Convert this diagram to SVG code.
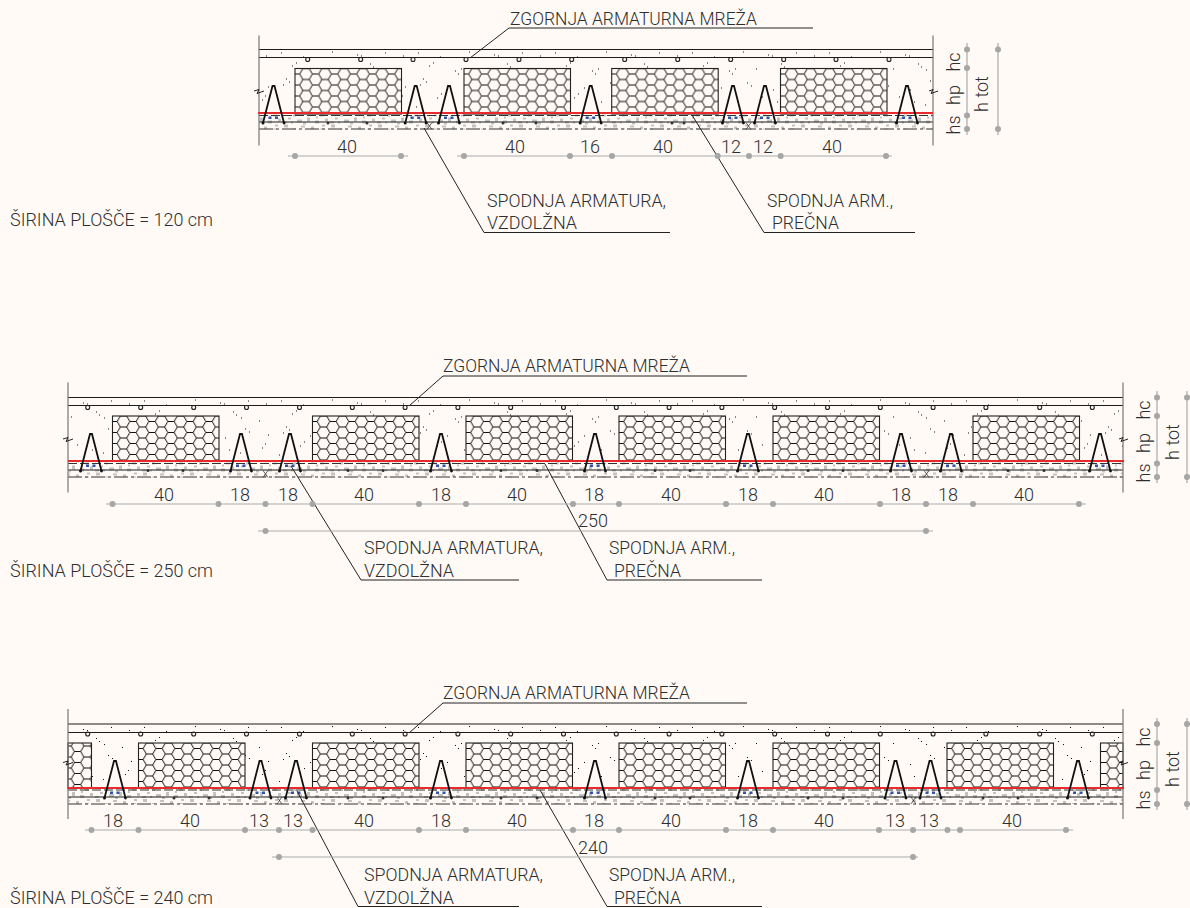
<svg xmlns="http://www.w3.org/2000/svg" xmlns:xlink="http://www.w3.org/1999/xlink" width="1190" height="908" viewBox="0 0 1190 908">
<style>
text{font-family:"Roboto","Liberation Sans",sans-serif;font-weight:300;font-size:18px;fill:#2e2e2e}
.m{text-anchor:middle}
.lead{fill:none;stroke:#222;stroke-width:1}
.edge{fill:none;stroke:#777;stroke-width:1.2}
.ln{fill:none;stroke:#1c1c1c;stroke-width:1.1}
.dsh{fill:none;stroke:#333;stroke-width:1;stroke-dasharray:9 3}
.dd{fill:none;stroke:#333;stroke-width:1;stroke-dasharray:14 3 3 3}
.red{fill:none;stroke:#ea2a2a;stroke-width:2}
.dim{fill:none;stroke:#ababab;stroke-width:1.2}
.reb{fill:none;stroke:#222;stroke-width:1.1}
.x{fill:none;stroke:#222;stroke-width:.7}
</style>
<defs>
<pattern id="hex" width="19" height="11" patternUnits="userSpaceOnUse" patternTransform="translate(4.7,0)"><rect width="19" height="11" fill="#fffaf6"/><path d="M0 5.5L3.17 0H9.5L12.67 5.5L9.5 11H3.17ZM12.67 5.5H19" fill="none" stroke="#111" stroke-width="1"/></pattern>
<pattern id="stip" width="137" height="64" patternUnits="userSpaceOnUse"><path d="M7 3h1v1h-1zM29 7h1v1h-1zM58 2h1v1h-1zM83 5h1v1h-1zM87 6h1v1h-1zM111 3h1v1h-1zM129 6h1v1h-1zM18 16h1v1h-1zM22 13h1v1h-1zM44 21h1v1h-1zM47 24h1v1h-1zM50 19h1v1h-1zM71 19h1v1h-1zM96 14h1v1h-1zM99 17h1v1h-1zM104 20h1v1h-1zM122 23h1v1h-1zM12 29h1v1h-1zM15 32h1v1h-1zM9 35h1v1h-1zM36 38h1v1h-1zM62 33h1v1h-1zM66 36h1v1h-1zM88 40h1v1h-1zM108 31h1v1h-1zM112 34h1v1h-1zM131 37h1v1h-1zM26 48h1v1h-1zM30 44h1v1h-1zM53 52h1v1h-1zM77 47h1v1h-1zM103 55h1v1h-1zM5 57h1v1h-1zM125 50h1v1h-1zM128 46h1v1h-1zM92 52h1v1h-1z" fill="#111"/></pattern>
<pattern id="grit" width="47" height="15" patternUnits="userSpaceOnUse"><path d="M2 0h4v3h-4zM11 4h3v3h-3zM19 1h4v2h-4zM29 2h3v3h-3zM38 4h4v3h-4zM6 8h3v2h-3zM15 10h5v3h-5zM25 8h3v4h-3zM33 11h4v3h-4zM43 9h3v3h-3zM1 12h4v2h-4zM21 13h3v2h-3zM40 0h3v2h-3zM34 7h2v2h-2zM9 12h2v2h-2z" fill="#c2c2c2"/></pattern>
<g id="block"><rect width="106.5" height="45.5" fill="url(#hex)" stroke="#222" stroke-width="1.1"/></g>
<g id="truss"><path d="M-10.500 37L-1 0H1L10.500 37" fill="none" stroke="#111" stroke-width="1.8"/><circle cx="-10.500" cy="37" r="1.5" fill="#111"/><circle cx="10.500" cy="37" r="1.4" fill="#111"/><rect x="-5" y="30.500" width="3" height="2.500" fill="#2f56a6"/><rect x="1.500" y="30.500" width="3" height="2.500" fill="#2f56a6"/></g>
<circle id="r" r="2" class="reb"/>
<circle id="b" r="1.5" fill="#333"/>
<circle id="d" r="3" fill="#a6a6a6"/>
</defs>
<rect width="1190" height="908" fill="#fffaf6"/>

<g id="slab-120" transform="translate(0,49.5)">
<rect x="260" y="1" width="673" height="63" fill="url(#stip)"/>
<rect x="260" y="65" width="673" height="15" fill="url(#grit)"/>
<path class="ln" d="M259 0H933M259 8H933"/>
<path class="dsh" d="M259 66H933"/><path class="ln" d="M259 72.500H933"/><path class="dd" d="M259 79.500H933"/>
<path class="edge" d="M259 -14V96M933 -14V96"/>
<path class="lead" d="M254 41.500L259 40L257 44L264 41.500M929 41.500L933 40L931 44L938 41.500"/>
<g id="rebars-120"><use href="#r" x="307.7" y="10"/><use href="#r" x="360.7" y="10"/><use href="#r" x="413" y="10"/><use href="#r" x="466" y="10"/><use href="#r" x="519" y="10"/><use href="#r" x="571.7" y="10"/><use href="#r" x="624.7" y="10"/><use href="#r" x="677.7" y="10"/><use href="#r" x="730.7" y="10"/><use href="#r" x="783.7" y="10"/><use href="#r" x="836" y="10"/><use href="#r" x="889" y="10"/></g>
<g id="blocks-120"><use href="#block" x="295" y="19"/><use href="#block" x="464" y="19"/><use href="#block" x="611.7" y="19"/><use href="#block" x="780.5" y="19"/></g>
<path class="red" d="M258 63.500H933"/>
<g id="trusses-120"><use href="#truss" x="273.5" y="36.5"/><use href="#truss" x="415.7" y="36.5"/><use href="#truss" x="449" y="36.5"/><use href="#truss" x="590.7" y="36.5"/><use href="#truss" x="733" y="36.5"/><use href="#truss" x="765" y="36.5"/><use href="#truss" x="907" y="36.5"/></g>
<g><use href="#b" x="328" y="73.5"/><use href="#b" x="367" y="73.5"/><use href="#b" x="503" y="73.5"/><use href="#b" x="536" y="73.5"/><use href="#b" x="672" y="73.5"/><use href="#b" x="684" y="73.5"/></g>
<path d="M427 73l5 7M432 73l-5 7M746 73l5 7M751 73l-5 7" class="x"/>
</g>

<g id="slab-250" transform="translate(0,397.5)">
<rect x="69" y="1" width="1054" height="63" fill="url(#stip)"/>
<rect x="69" y="65" width="1054" height="15" fill="url(#grit)"/>
<path class="ln" d="M68 0H1123M68 8H1123"/>
<path class="dsh" d="M68 66H1123"/><path class="ln" d="M68 72.500H1123"/><path class="dd" d="M68 79.500H1123"/>
<path class="edge" d="M68 -15V95M1123 -15V95"/>
<path class="lead" d="M63 41.500L68 40L66 44L73 41.500M1119 41.500L1123 40L1121 44L1128 41.500"/>
<g id="rebars-250"><use href="#r" x="87.7" y="10"/><use href="#r" x="140.7" y="10"/><use href="#r" x="193.7" y="10"/><use href="#r" x="246.5" y="10"/><use href="#r" x="299.5" y="10"/><use href="#r" x="352.3" y="10"/><use href="#r" x="405.1" y="10"/><use href="#r" x="457.9" y="10"/><use href="#r" x="510.7" y="10"/><use href="#r" x="563.5" y="10"/><use href="#r" x="616.3" y="10"/><use href="#r" x="669.1" y="10"/><use href="#r" x="721.9" y="10"/><use href="#r" x="774.7" y="10"/><use href="#r" x="827.5" y="10"/><use href="#r" x="880.3" y="10"/><use href="#r" x="933.1" y="10"/><use href="#r" x="985.9" y="10"/><use href="#r" x="1039.7" y="10"/><use href="#r" x="1092.3" y="10"/></g>
<g id="blocks-250"><use href="#block" x="112.5" y="18.5"/><use href="#block" x="312.5" y="18.5"/><use href="#block" x="466" y="18.5"/><use href="#block" x="619" y="18.5"/><use href="#block" x="773" y="18.5"/><use href="#block" x="973" y="18.5"/></g>
<path class="red" d="M68 63.500H1124"/>
<g id="trusses-250"><use href="#truss" x="91" y="36.5"/><use href="#truss" x="241" y="36.5"/><use href="#truss" x="290" y="36.5"/><use href="#truss" x="441" y="36.5"/><use href="#truss" x="595" y="36.5"/><use href="#truss" x="748" y="36.5"/><use href="#truss" x="901" y="36.5"/><use href="#truss" x="951" y="36.5"/><use href="#truss" x="1100" y="36.5"/></g>
<g><use href="#b" x="148" y="73"/><use href="#b" x="183" y="73"/><use href="#b" x="348" y="73"/><use href="#b" x="383" y="73"/><use href="#b" x="501" y="73"/><use href="#b" x="537" y="73"/><use href="#b" x="655" y="73"/><use href="#b" x="690" y="73"/><use href="#b" x="808" y="73"/><use href="#b" x="843" y="73"/><use href="#b" x="1008" y="73"/><use href="#b" x="1044" y="73"/></g>
<path d="M263 73l5 7M268 73l-5 7M924 73l5 7M929 73l-5 7" class="x"/>
</g>

<g id="slab-240" transform="translate(0,724)">
<rect x="69" y="1" width="1054" height="63" fill="url(#stip)"/>
<rect x="69" y="65" width="1054" height="15" fill="url(#grit)"/>
<g id="blocks-240"><rect x="68" y="19" width="23.5" height="45.5" fill="url(#hex)" stroke="#222" stroke-width="1.1"/><use href="#block" x="138.5" y="19"/><use href="#block" x="312.5" y="19"/><use href="#block" x="466" y="19"/><use href="#block" x="619" y="19"/><use href="#block" x="773" y="19"/><use href="#block" x="947" y="19"/><rect x="1100.5" y="19" width="22.5" height="45.5" fill="url(#hex)" stroke="#222" stroke-width="1.1"/></g>
<path class="ln" d="M68 0H1123M68 8.500H1123"/>
<path class="dsh" d="M68 66H1123"/><path class="ln" d="M68 73H1123"/><path class="dd" d="M68 80H1123"/>
<path class="edge" d="M68 -15V95M1123 -15V95"/>
<path class="lead" d="M63 38.500L68 37L66 41L73 38.500M1119 38.500L1123 37L1121 41L1128 38.500"/>
<g id="rebars-240"><use href="#r" x="87.7" y="10"/><use href="#r" x="140.7" y="10"/><use href="#r" x="193.7" y="10"/><use href="#r" x="246.5" y="10"/><use href="#r" x="299.5" y="10"/><use href="#r" x="352.3" y="10"/><use href="#r" x="405.1" y="10"/><use href="#r" x="457.9" y="10"/><use href="#r" x="510.7" y="10"/><use href="#r" x="563.5" y="10"/><use href="#r" x="616.3" y="10"/><use href="#r" x="669.1" y="10"/><use href="#r" x="721.9" y="10"/><use href="#r" x="774.7" y="10"/><use href="#r" x="827.5" y="10"/><use href="#r" x="880.3" y="10"/><use href="#r" x="933.1" y="10"/><use href="#r" x="985.9" y="10"/><use href="#r" x="1039.7" y="10"/><use href="#r" x="1092.3" y="10"/></g>
<path class="red" d="M68 64H1124"/>
<g id="trusses-240"><use href="#truss" x="115" y="37"/><use href="#truss" x="260.5" y="37"/><use href="#truss" x="296" y="37"/><use href="#truss" x="441" y="37"/><use href="#truss" x="595" y="37"/><use href="#truss" x="748" y="37"/><use href="#truss" x="895.5" y="37"/><use href="#truss" x="930.5" y="37"/><use href="#truss" x="1078" y="37"/></g>
<g><use href="#b" x="174" y="74"/><use href="#b" x="209" y="74"/><use href="#b" x="348" y="74"/><use href="#b" x="383" y="74"/><use href="#b" x="501" y="74"/><use href="#b" x="537" y="74"/><use href="#b" x="655" y="74"/><use href="#b" x="690" y="74"/><use href="#b" x="808" y="74"/><use href="#b" x="843" y="74"/><use href="#b" x="983" y="74"/><use href="#b" x="1018" y="74"/></g>
<path d="M277 73l5 7M282 73l-5 7M911 73l5 7M916 73l-5 7" class="x"/>
</g>

<g id="connectors">
<path class="lead" d="M470 58L509 28H813M424 128L484 232.500H670M692 115L764 232.500H915"/>
<path class="lead" d="M409 406L443 376H747M291 466L361 580H519M545 464L607 580H762"/>
<path class="lead" d="M409 733L443 703H747M297 791L358 906.500H519M540 790L607 906.500H762"/>
</g>

<g id="dims-120">
<path class="dim" d="M288 156H408M457 156H793M779 156H892M967 43V135M998 43V135"/>
<g><use href="#d" x="295" y="156"/><use href="#d" x="401" y="156"/><use href="#d" x="464" y="156"/><use href="#d" x="570" y="156"/><use href="#d" x="612" y="156"/><use href="#d" x="717.700" y="156"/><use href="#d" x="749" y="156"/><use href="#d" x="780.700" y="156"/><use href="#d" x="886" y="156"/><use href="#d" x="967" y="49.500"/><use href="#d" x="967" y="68"/><use href="#d" x="967" y="115.500"/><use href="#d" x="967" y="129"/><use href="#d" x="998" y="49.500"/><use href="#d" x="998" y="129"/></g>
<text class="m" x="347" y="153">40</text><text class="m" x="515" y="153">40</text><text class="m" x="590" y="153">16</text><text class="m" x="663" y="153">40</text><text class="m" x="731" y="153">12</text><text class="m" x="763" y="153">12</text><text class="m" x="832" y="153">40</text>
<text class="m" transform="translate(960,62) rotate(-90)">hc</text><text class="m" transform="translate(960,95) rotate(-90)">hp</text><text class="m" transform="translate(960,125) rotate(-90)">hs</text><text class="m" transform="translate(988,94) rotate(-90)">h tot</text>
</g>

<g id="dims-250">
<path class="dim" d="M106 504H1086M258 531H933M1157 391V483M1187 391V483"/>
<g><use href="#d" x="112.500" y="504"/><use href="#d" x="218.500" y="504"/><use href="#d" x="265.500" y="504"/><use href="#d" x="312.500" y="504"/><use href="#d" x="419" y="504"/><use href="#d" x="466" y="504"/><use href="#d" x="573" y="504"/><use href="#d" x="619" y="504"/><use href="#d" x="726" y="504"/><use href="#d" x="773" y="504"/><use href="#d" x="880" y="504"/><use href="#d" x="926" y="504"/><use href="#d" x="973" y="504"/><use href="#d" x="1079" y="504"/><use href="#d" x="265.500" y="531"/><use href="#d" x="926" y="531"/><use href="#d" x="1157" y="397.500"/><use href="#d" x="1157" y="416"/><use href="#d" x="1157" y="463.500"/><use href="#d" x="1157" y="477"/><use href="#d" x="1187" y="397.500"/><use href="#d" x="1187" y="477"/></g>
<text class="m" x="164" y="501">40</text><text class="m" x="240" y="501">18</text><text class="m" x="288" y="501">18</text><text class="m" x="364" y="501">40</text><text class="m" x="441" y="501">18</text><text class="m" x="517" y="501">40</text><text class="m" x="594" y="501">18</text><text class="m" x="671" y="501">40</text><text class="m" x="748" y="501">18</text><text class="m" x="824" y="501">40</text><text class="m" x="901" y="501">18</text><text class="m" x="948" y="501">18</text><text class="m" x="1024" y="501">40</text><text class="m" x="593" y="527">250</text>
<text class="m" transform="translate(1150,410) rotate(-90)">hc</text><text class="m" transform="translate(1150,443) rotate(-90)">hp</text><text class="m" transform="translate(1150,473) rotate(-90)">hs</text><text class="m" transform="translate(1179,442) rotate(-90)">h tot</text>
</g>

<g id="dims-240">
<path class="dim" d="M85 830H1073M272 857H918M1157 718V810M1187 718V810"/>
<g><use href="#d" x="91.500" y="830"/><use href="#d" x="138.500" y="830"/><use href="#d" x="245" y="830"/><use href="#d" x="279" y="830"/><use href="#d" x="312.500" y="830"/><use href="#d" x="419" y="830"/><use href="#d" x="466" y="830"/><use href="#d" x="573" y="830"/><use href="#d" x="619" y="830"/><use href="#d" x="726" y="830"/><use href="#d" x="773" y="830"/><use href="#d" x="879" y="830"/><use href="#d" x="913" y="830"/><use href="#d" x="947.500" y="830"/><use href="#d" x="960" y="830"/><use href="#d" x="1066" y="830"/><use href="#d" x="279" y="857"/><use href="#d" x="913" y="857"/><use href="#d" x="1157" y="724"/><use href="#d" x="1157" y="743"/><use href="#d" x="1157" y="790"/><use href="#d" x="1157" y="804"/><use href="#d" x="1187" y="724"/><use href="#d" x="1187" y="804"/></g>
<text class="m" x="113" y="827">18</text><text class="m" x="190" y="827">40</text><text class="m" x="259" y="827">13</text><text class="m" x="293" y="827">13</text><text class="m" x="364" y="827">40</text><text class="m" x="441" y="827">18</text><text class="m" x="517" y="827">40</text><text class="m" x="594" y="827">18</text><text class="m" x="671" y="827">40</text><text class="m" x="748" y="827">18</text><text class="m" x="824" y="827">40</text><text class="m" x="895" y="827">13</text><text class="m" x="929" y="827">13</text><text class="m" x="1012" y="827">40</text><text class="m" x="593" y="854">240</text>
<text class="m" transform="translate(1150,737) rotate(-90)">hc</text><text class="m" transform="translate(1150,770) rotate(-90)">hp</text><text class="m" transform="translate(1150,800) rotate(-90)">hs</text><text class="m" transform="translate(1179,769) rotate(-90)">h tot</text>
</g>

<g id="labels">
<text x="510" y="25" textLength="247" lengthAdjust="spacingAndGlyphs">ZGORNJA ARMATURNA MREŽA</text>
<text x="487" y="207" textLength="179" lengthAdjust="spacingAndGlyphs">SPODNJA ARMATURA,</text>
<text x="487" y="229" textLength="90" lengthAdjust="spacingAndGlyphs">VZDOLŽNA</text>
<text x="767" y="207" textLength="126" lengthAdjust="spacingAndGlyphs">SPODNJA ARM.,</text>
<text x="772" y="229" textLength="67" lengthAdjust="spacingAndGlyphs">PREČNA</text>
<text x="10" y="226" textLength="203" lengthAdjust="spacingAndGlyphs">ŠIRINA PLOŠČE = 120 cm</text>
<text x="443" y="372" textLength="247" lengthAdjust="spacingAndGlyphs">ZGORNJA ARMATURNA MREŽA</text>
<text x="364" y="554" textLength="179" lengthAdjust="spacingAndGlyphs">SPODNJA ARMATURA,</text>
<text x="364" y="577" textLength="90" lengthAdjust="spacingAndGlyphs">VZDOLŽNA</text>
<text x="609" y="554" textLength="126" lengthAdjust="spacingAndGlyphs">SPODNJA ARM.,</text>
<text x="614" y="577" textLength="67" lengthAdjust="spacingAndGlyphs">PREČNA</text>
<text x="10" y="577" textLength="203" lengthAdjust="spacingAndGlyphs">ŠIRINA PLOŠČE = 250 cm</text>
<text x="443" y="699" textLength="247" lengthAdjust="spacingAndGlyphs">ZGORNJA ARMATURNA MREŽA</text>
<text x="364" y="881" textLength="179" lengthAdjust="spacingAndGlyphs">SPODNJA ARMATURA,</text>
<text x="364" y="904" textLength="90" lengthAdjust="spacingAndGlyphs">VZDOLŽNA</text>
<text x="609" y="881" textLength="126" lengthAdjust="spacingAndGlyphs">SPODNJA ARM.,</text>
<text x="614" y="904" textLength="67" lengthAdjust="spacingAndGlyphs">PREČNA</text>
<text x="10" y="904" textLength="203" lengthAdjust="spacingAndGlyphs">ŠIRINA PLOŠČE = 240 cm</text>
</g>
</svg>
